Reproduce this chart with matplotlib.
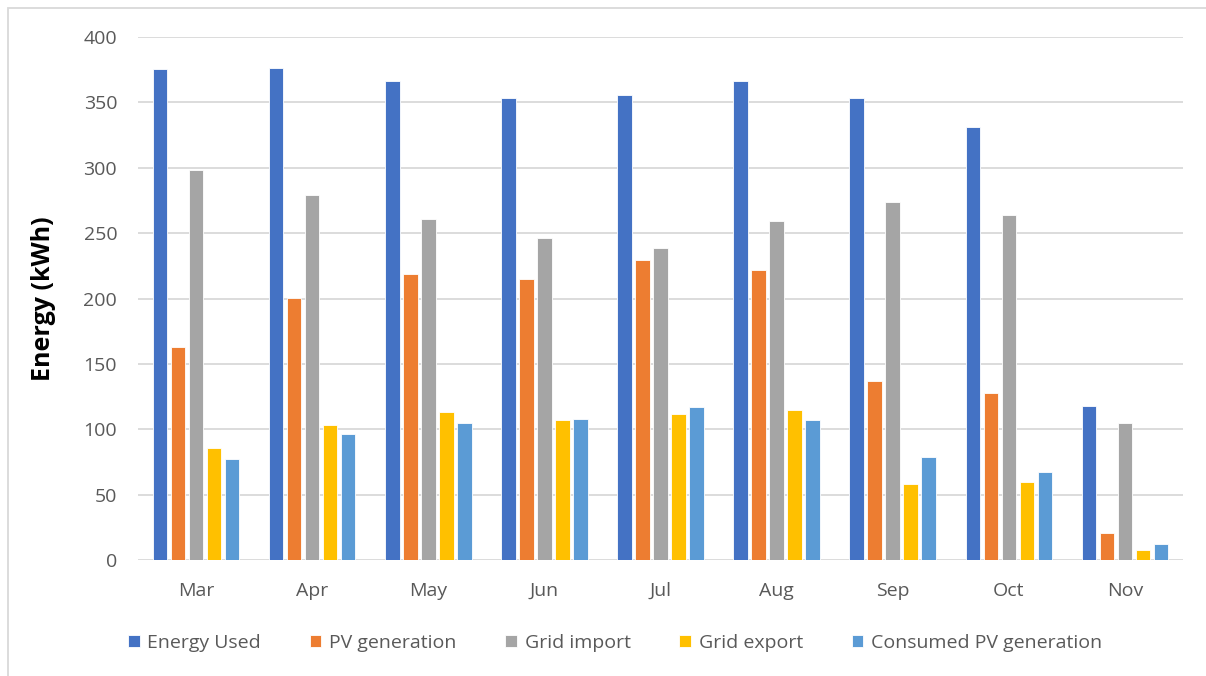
import numpy as np
import matplotlib.pyplot as plt
from matplotlib.patches import Rectangle

months = ["Mar", "Apr", "May", "Jun", "Jul", "Aug", "Sep", "Oct", "Nov"]
energy_used = [375.5, 376.5, 366, 353.5, 355.5, 366.5, 353, 331.5, 117.5]
pv_generation = [163, 200.5, 219, 215, 229.5, 222, 137, 127.5, 20.5]
grid_import = [298.5, 279.5, 260.5, 246, 238.5, 259.5, 274, 264, 105]
grid_export = [85.5, 103.5, 113.5, 107, 112, 114.5, 58, 59.5, 8]
consumed_pv = [77, 96.5, 105, 107.5, 117, 107, 78.5, 67.5, 12.5]

series = [
    ("Energy Used", energy_used, "#4472C4"),
    ("PV generation", pv_generation, "#ED7D31"),
    ("Grid import", grid_import, "#A5A5A5"),
    ("Grid export", grid_export, "#FFC000"),
    ("Consumed PV generation", consumed_pv, "#5B9BD5"),
]

plt.rcParams["font.family"] = ["Open Sans", "DejaVu Sans"]
text_color = "#595959"

fig = plt.figure(figsize=(12.06, 6.76), dpi=100)
ax = fig.add_axes([138 / 1206, 1 - 560 / 676, (1183 - 138) / 1206, (560 - 37) / 676])

x = np.arange(len(months))
step = 0.155
width = 0.125
for i, (name, vals, color) in enumerate(series):
    ax.bar(x + (i - 2) * step, vals, width, color=color, label=name,
           edgecolor="white", linewidth=0.6, zorder=3)

ax.set_xlim(-0.5, len(months) - 0.5)
ax.set_ylim(0, 400)
ax.set_yticks(range(0, 401, 50))
ax.set_xticks(x)
ax.set_xticklabels(months)
ax.grid(axis="y", color="#D9D9D9", linewidth=1.3, zorder=0)
for s in ax.spines.values():
    s.set_visible(False)
ax.tick_params(length=0, labelsize=14, colors=text_color, pad=15)
ax.tick_params(axis="x", pad=16)
ax.set_ylabel("Energy (kWh)", fontsize=18, fontweight="bold", color="black", labelpad=20)

handles, labels = ax.get_legend_handles_labels()
fig.legend(handles, labels, loc="center", bbox_to_anchor=(615 / 1206, 1 - 643 / 676),
           ncol=5, frameon=False, fontsize=14, labelcolor=text_color,
           handlelength=0.6, handleheight=0.6, handletextpad=0.4, columnspacing=2.5)

# chart area border (cropped on right and bottom)
fig.patches.append(Rectangle((8 / 1206, -0.1), 1.2, 1 - 8 / 676 + 0.1,
                             transform=fig.transFigure, fill=False,
                             edgecolor="#D9D9D9", linewidth=1.3))

fig.savefig("out.png", dpi=100)
